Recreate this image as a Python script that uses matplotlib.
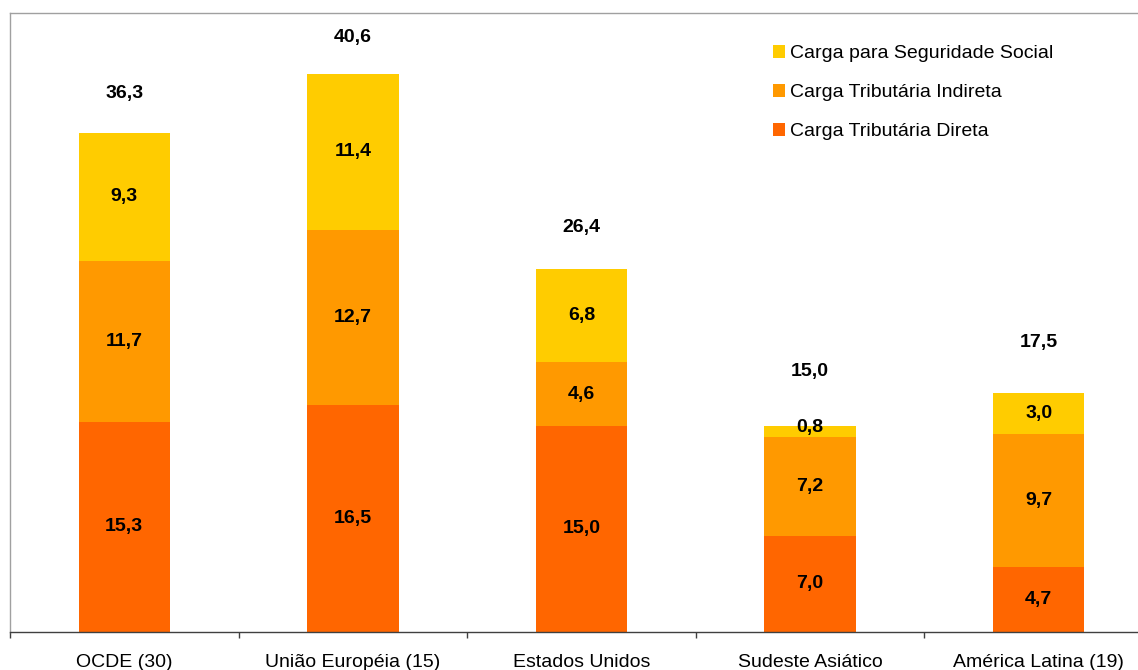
import matplotlib
matplotlib.use("Agg")
import matplotlib.pyplot as plt
import numpy as np

categories = ["OCDE (30)", "União Européia (15)", "Estados Unidos", "Sudeste Asiático", "América Latina (19)"]
direta = [15.3, 16.5, 15.0, 7.0, 4.7]
indireta = [11.7, 12.7, 4.6, 7.2, 9.7]
seguridade = [9.3, 11.4, 6.8, 0.8, 3.0]
totais = [36.3, 40.6, 26.4, 15.0, 17.5]

# vertical offset (points) of the total labels above the bar tops
total_offsets = [28, 26, 29.5, 39, 36]

plt.rcParams['font.family'] = ['Liberation Sans', 'DejaVu Sans']

c_dir = '#FF6600'
c_ind = '#FF9900'
c_seg = '#FFCC00'

fig = plt.figure(figsize=(11.38, 6.70), dpi=100)
ax = fig.add_axes([10/1138, 38/670, 1143/1138, 619/670])

x = np.arange(len(categories))
w = 0.4
d = np.array(direta)
i_ = np.array(indireta)
s = np.array(seguridade)

b1 = ax.bar(x, d, w, color=c_dir, label='Carga Tributária Direta')
b2 = ax.bar(x, i_, w, bottom=d, color=c_ind, label='Carga Tributária Indireta')
b3 = ax.bar(x, s, w, bottom=d + i_, color=c_seg, label='Carga para Seguridade Social')

fs = 14
def fmt(v):
    return f"{v:.1f}".replace('.', ',')

for k in range(len(categories)):
    ax.text(x[k], d[k] / 2, fmt(d[k]), ha='center', va='center', fontsize=fs, fontweight='bold')
    ax.text(x[k], d[k] + i_[k] / 2, fmt(i_[k]), ha='center', va='center', fontsize=fs, fontweight='bold')
    ysc = d[k] + i_[k] + s[k] / 2
    if s[k] < 2:
        ax.annotate(fmt(s[k]), (x[k], ysc), xytext=(0, 3), textcoords='offset points',
                    ha='center', va='center', fontsize=fs, fontweight='bold')
    else:
        ax.text(x[k], ysc, fmt(s[k]), ha='center', va='center', fontsize=fs, fontweight='bold')
    top = d[k] + i_[k] + s[k]
    ax.annotate(fmt(totais[k]), (x[k], top), xytext=(0, total_offsets[k]), textcoords='offset points',
                ha='center', va='center', fontsize=fs, fontweight='bold')

ax.set_xlim(-0.5, len(categories) - 0.5)
ax.set_ylim(0, 45)
ax.set_yticks([])
ax.set_xticks(x)
ax.set_xticklabels(categories, fontsize=fs)
ax.tick_params(axis='x', which='major', length=0, pad=16)
ax.set_xticks(np.arange(-0.5, len(categories) + 0.5, 1), minor=True)
ax.tick_params(axis='x', which='minor', length=4.5, width=1, color='#404040', direction='out')

for side in ['left', 'top']:
    ax.spines[side].set_color('#A0A0A0')
    ax.spines[side].set_linewidth(1)
ax.spines['right'].set_visible(False)
ax.spines['bottom'].set_color('#404040')
ax.spines['bottom'].set_linewidth(1)

handles = [b3, b2, b1]
labels = [h.get_label() for h in handles]
fig.legend(handles, labels, loc='upper left', bbox_to_anchor=(773/1138, 1 - 45/670),
           frameon=False, fontsize=fs, handlelength=0.62, handleheight=0.62,
           handletextpad=0.25, labelspacing=1.13, borderpad=0, borderaxespad=0)

fig.savefig('out.png', dpi=100)
